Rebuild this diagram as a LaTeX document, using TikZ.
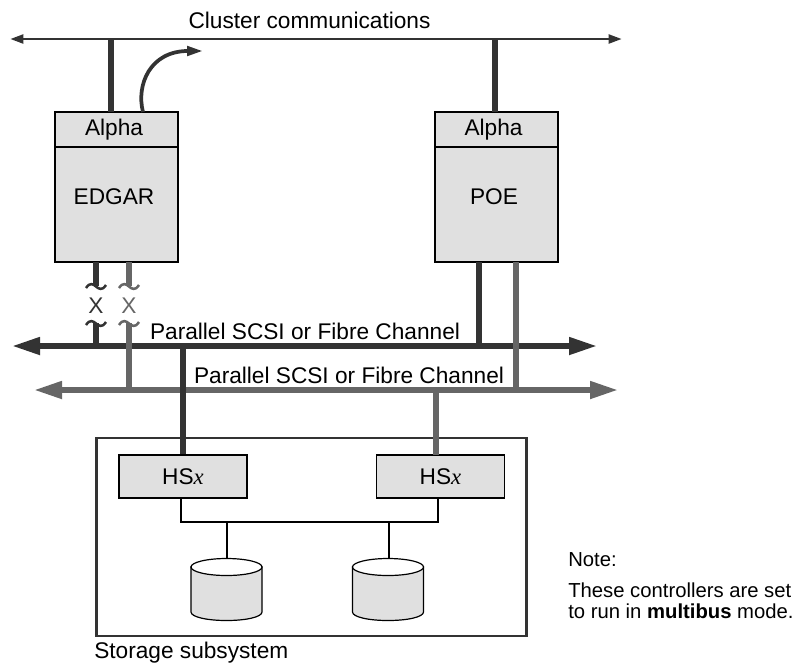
\documentclass[tikz,border=0pt]{standalone}
\usepackage{fontspec}
\setmainfont{Liberation Sans}
\newfontfamily\serifx{Liberation Serif}
\usetikzlibrary{arrows.meta}
\definecolor{darkbus}{RGB}{51,51,51}
\definecolor{graybus}{RGB}{102,102,102}
\definecolor{boxfill}{RGB}{224,224,224}
\tikzset{
  txt/.style={font=\fontsize{17}{19}\selectfont,inner sep=0pt},
  notetxt/.style={font=\fontsize{15.2}{17}\selectfont,inner sep=0pt,anchor=west},
  hostbox/.style={draw=black,fill=boxfill,line width=1pt,minimum width=92.25pt,inner sep=0pt},
  ctlbox/.style={draw=black,fill=boxfill,line width=1pt,minimum width=96pt,minimum height=32.25pt,inner sep=0pt,font=\fontsize{17}{19}\selectfont},
  diskbody/.style={draw=black,fill=boxfill,line width=0.9pt},
  diskend/.style={draw=black,fill=white,line width=0.9pt},
  darkline/.style={draw=darkbus,line width=4.2pt},
  grayline/.style={draw=graybus,line width=4.2pt},
  wire/.style={draw=black,line width=1.1pt},
  darkarrow/.style={darkline,{Triangle[length=21pt,width=12.5pt]}-{Triangle[length=21pt,width=12.5pt]}},
  grayarrow/.style={grayline,{Triangle[length=21pt,width=12.5pt]}-{Triangle[length=21pt,width=12.5pt]}},
  tilde/.style={line width=1.9pt}
}
\begin{document}
\begin{tikzpicture}[x=0.75pt,y=0.75pt,yscale=-1,xscale=1]
\useasboundingbox (0,0) rectangle (795,665);

% Storage box
\node [draw=darkbus,line width=1.6pt,minimum width=322.5pt,minimum height=148.5pt,inner sep=0pt] (storage) at (311.5,537) {};

% Hosts
\node [hostbox,minimum height=26.25pt] (edgarhead) at (116.5,129.5) {};
\node [hostbox,minimum height=86.25pt] (edgarbody) at (116.5,204.5) {};
\node [hostbox,minimum height=26.25pt] (poehead) at (496.5,129.5) {};
\node [hostbox,minimum height=86.25pt] (poebody) at (496.5,204.5) {};

% Controllers
\node [ctlbox] (hsa) at (183,476.5) {HS{\serifx\itshape x}};
\node [ctlbox] (hsb) at (440.5,476.5) {HS{\serifx\itshape x}};

% Disks
\draw [diskbody] (191,567) -- (191,612) .. controls (191,617) and (207,620.5) .. (226.5,620.5) .. controls (246,620.5) and (262,617) .. (262,612) -- (262,567) -- cycle;
\draw [diskend] (226.5,567) ellipse (35.5 and 8.5);
\draw [diskbody] (352.5,567) -- (352.5,612) .. controls (352.5,617) and (368.5,620.5) .. (388,620.5) .. controls (407.5,620.5) and (423.5,617) .. (423.5,612) -- (423.5,567) -- cycle;
\draw [diskend] (388,567) ellipse (35.5 and 8.5);
\coordinate (diska) at (227,558.5);
\coordinate (diskb) at (388.8,558.5);

% Free ends
\coordinate (clusterl) at (10,39);
\coordinate (clusterr) at (622,39);
\coordinate (edgartop) at (111,39);
\coordinate (edgarbot) at (111,112);
\coordinate (poetop) at (495,39);
\coordinate (poebot) at (495,112);
\coordinate (curvea) at (143,112);
\coordinate (curveb) at (203,51);
\coordinate (darkl) at (12,346);
\coordinate (darkr) at (597,346);
\coordinate (grayl) at (34,390);
\coordinate (grayr) at (618,390);
\coordinate (ea) at (96,262);
\coordinate (eb) at (96,286);
\coordinate (ec) at (96,323);
\coordinate (ed) at (96,346);
\coordinate (ga) at (129,262);
\coordinate (gb) at (129,286);
\coordinate (gc) at (129,323);
\coordinate (gd) at (129,390);
\coordinate (pa) at (479,262);
\coordinate (pb) at (479,346);
\coordinate (qa) at (516,262);
\coordinate (qb) at (516,390);
\coordinate (ha) at (183,346);
\coordinate (hb) at (436,390);
\coordinate (hc) at (436,455);
\coordinate (wa) at (181,498);
\coordinate (wb) at (181,522);
\coordinate (wc) at (438,522);
\coordinate (wd) at (438,498);
\coordinate (da) at (227,522);
\coordinate (db) at (388.8,522);

% Cluster line
\draw [draw=darkbus,line width=2.2pt,{Triangle[length=10pt,width=6.5pt]}-{Triangle[length=10pt,width=6.5pt]}] (clusterl) -- (clusterr);
\draw [darkline] (edgartop) -- (edgarbot);
\draw [darkline] (poetop) -- (poebot);
\draw [draw=darkbus,line width=2.8pt,-{Triangle[length=12pt,width=7pt]}] (curvea) .. controls (136,85) and (150,51) .. (curveb);

% Buses
\draw [darkarrow] (darkl) -- (darkr);
\draw [darkline] (ea) -- (eb);
\draw [darkline] (ec) -- (ed);
\draw [darkline] (pa) -- (pb);
\draw [grayarrow] (grayl) -- (grayr);
\draw [grayline] (ga) -- (gb);
\draw [grayline] (gc) -- (gd);
\draw [grayline] (qa) -- (qb);
\draw [darkline] (ha) -- (hsa.north);
\draw [grayline] (hb) -- (hc);

% Breaks
\draw [tilde,darkbus] (86,288) .. controls (90,282) and (93,284) .. (96,286.5) .. controls (99,289) and (102,291) .. (106,285);
\draw [tilde,darkbus] (86,325) .. controls (90,319) and (93,321) .. (96,323.5) .. controls (99,326) and (102,328) .. (106,322);
\draw [tilde,graybus] (119,288) .. controls (123,282) and (126,284) .. (129,286.5) .. controls (132,289) and (135,291) .. (139,285);
\draw [tilde,graybus] (119,325) .. controls (123,319) and (126,321) .. (129,323.5) .. controls (132,326) and (135,328) .. (139,322);

% Controller wiring
\draw [wire] (wa) -- (wb) -- (wc) -- (wd);
\draw [wire] (da) -- (diska);
\draw [wire] (db) -- (diskb);

% Text Node
\node [txt] (clusterlbl) at (309.5,20) {Cluster communications};
\node [txt] (edgaralpha) at (114,130) {Alpha};
\node [txt] (edgarlbl) at (114,197) {EDGAR};
\node [txt] (poealpha) at (493.5,130) {Alpha};
\node [txt] (poelbl) at (494,197) {POE};
\node [txt,text=darkbus] (xa) at (96,306) {X};
\node [txt,text=graybus] (xb) at (129,306) {X};
\node [txt] (darklbl) at (305,331) {Parallel SCSI or Fibre Channel};
\node [txt] (graylbl) at (349,375) {Parallel SCSI or Fibre Channel};
\node [txt,anchor=west] (storagelbl) at (94,653) {Storage subsystem};
\node [notetxt] (notea) at (568,560) {Note:};
\node [notetxt] (noteb) at (568,590) {These controllers are set};
\node [notetxt] (notec) at (568,611) {to run in \textbf{multibus} mode.};

\end{tikzpicture}
\end{document}
